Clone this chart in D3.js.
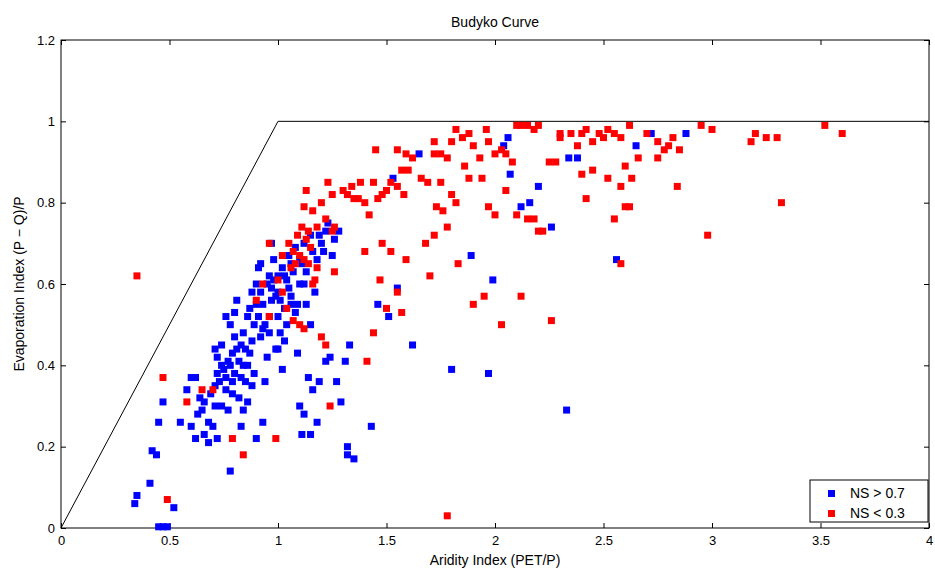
<!DOCTYPE html>
<html><head><meta charset="utf-8">
<script src="https://cdn.jsdelivr.net/npm/d3@7"></script>
<style>body{margin:0;background:#fff}text{font-family:Arial,"Liberation Sans",sans-serif}</style>
</head><body><svg id="c" width="935" height="572"></svg>
<script>
const xTicks = [0, 0.5, 1, 1.5, 2, 2.5, 3, 3.5, 4];
const yTicks = [0, 0.2, 0.4, 0.6, 0.8, 1, 1.2];
const budyko = [[0, 0], [1, 1], [4, 1]];
const blue = [[0.34,0.06],[0.35,0.08],[0.41,0.11],[0.42,0.19],[0.44,0.18],[0.45,0.26],[0.47,0.31],[0.45,0.003],[0.47,0.003],[0.49,0.003],[0.52,0.05],[0.55,0.26],[0.58,0.34],[0.60,0.37],[0.62,0.37],[0.60,0.25],[0.63,0.28],[0.62,0.22],[0.65,0.29],[0.66,0.31],[0.66,0.23],[0.68,0.21],[0.70,0.25],[0.69,0.33],[0.71,0.30],[0.72,0.38],[0.72,0.42],[0.71,0.44],[0.74,0.45],[0.73,0.36],[0.75,0.39],[0.76,0.34],[0.74,0.30],[0.72,0.22],[0.77,0.29],[0.78,0.14],[0.79,0.43],[0.80,0.47],[0.78,0.50],[0.76,0.52],[0.80,0.53],[0.81,0.56],[0.82,0.41],[0.83,0.37],[0.84,0.29],[0.83,0.25],[0.85,0.44],[0.86,0.40],[0.86,0.31],[0.87,0.54],[0.88,0.46],[0.88,0.58],[0.90,0.60],[0.91,0.64],[0.92,0.65],[0.93,0.55],[0.94,0.50],[0.95,0.42],[0.94,0.36],[0.93,0.26],[0.90,0.22],[0.96,0.62],[0.97,0.56],[0.98,0.66],[0.99,0.57],[1.00,0.52],[1.01,0.48],[1.00,0.44],[1.03,0.46],[1.02,0.39],[1.04,0.61],[1.05,0.67],[1.06,0.57],[1.07,0.63],[1.08,0.69],[1.08,0.53],[1.09,0.43],[1.10,0.60],[1.11,0.65],[1.12,0.70],[1.13,0.55],[1.15,0.50],[1.15,0.72],[1.17,0.58],[1.18,0.66],[1.20,0.70],[1.21,0.68],[1.22,0.73],[1.23,0.75],[1.14,0.37],[1.16,0.34],[1.10,0.30],[1.12,0.28],[1.11,0.23],[1.15,0.23],[1.18,0.26],[1.19,0.36],[1.22,0.41],[1.24,0.42],[1.27,0.36],[1.31,0.41],[1.33,0.45],[1.29,0.31],[1.32,0.20],[1.32,0.18],[1.35,0.17],[1.43,0.25],[1.46,0.55],[1.51,0.52],[1.55,0.59],[1.62,0.45],[1.53,0.86],[1.65,0.92],[1.80,0.39],[1.89,0.67],[1.97,0.38],[1.99,0.61],[2.07,0.87],[2.12,0.79],[2.16,0.80],[2.20,0.84],[2.26,0.74],[2.04,0.94],[2.06,0.96],[2.33,0.29],[2.34,0.91],[2.38,0.91],[2.56,0.66],[2.72,0.97],[2.65,0.94],[2.88,0.97],[0.97,0.70],[1.00,0.62],[1.02,0.64],[1.05,0.59],[1.09,0.55],[0.96,0.48],[0.99,0.44],[0.92,0.47],[0.89,0.38],[0.85,0.36],[0.82,0.32],[0.79,0.36],[0.77,0.41],[0.80,0.38],[0.84,0.48],[0.86,0.52],[0.91,0.52],[1.26,0.71],[1.28,0.73],[1.25,0.67],[1.01,0.56],[1.04,0.50],[0.78,0.40],[0.81,0.44],[0.83,0.45],[0.76,0.37],[0.79,0.33],[0.84,0.40],[0.87,0.43],[0.90,0.55],[0.92,0.58],[0.95,0.60],[0.98,0.61],[1.00,0.58],[1.03,0.62],[1.06,0.65],[1.10,0.66],[1.13,0.63],[1.16,0.68],[1.19,0.72],[0.93,0.49],[0.96,0.52],[0.74,0.40],[0.71,0.35],[0.68,0.26],[0.64,0.32],[0.88,0.35],[1.06,0.55],[1.12,0.60],[1.03,0.54],[0.89,0.50],[0.97,0.59]];
const red = [[0.35,0.62],[0.47,0.37],[0.49,0.07],[0.58,0.31],[0.65,0.34],[0.70,0.34],[0.79,0.22],[0.84,0.18],[0.99,0.22],[0.90,0.56],[0.93,0.60],[0.96,0.52],[1.00,0.61],[1.02,0.58],[1.04,0.54],[1.07,0.51],[1.10,0.50],[1.12,0.49],[1.06,0.64],[1.08,0.65],[1.10,0.67],[1.12,0.66],[1.14,0.65],[1.15,0.69],[1.16,0.60],[1.18,0.64],[0.96,0.70],[1.02,0.67],[1.05,0.70],[1.07,0.68],[1.09,0.72],[1.11,0.74],[1.13,0.71],[1.14,0.73],[1.16,0.78],[1.18,0.74],[1.22,0.76],[1.25,0.73],[1.26,0.74],[1.12,0.79],[1.13,0.83],[1.20,0.80],[1.23,0.85],[1.25,0.82],[1.30,0.83],[1.32,0.82],[1.34,0.84],[1.35,0.81],[1.37,0.81],[1.38,0.85],[1.40,0.80],[1.42,0.77],[1.44,0.85],[1.46,0.81],[1.48,0.82],[1.50,0.83],[1.52,0.85],[1.55,0.84],[1.57,0.88],[1.58,0.82],[1.60,0.88],[1.45,0.93],[1.40,0.68],[1.47,0.61],[1.48,0.70],[1.52,0.68],[1.55,0.58],[1.57,0.53],[1.59,0.66],[1.50,0.54],[1.44,0.48],[1.41,0.41],[1.26,0.63],[1.17,0.61],[1.20,0.47],[1.22,0.45],[1.24,0.30],[1.72,0.95],[1.75,0.92],[1.78,0.91],[1.80,0.95],[1.82,0.98],[1.85,0.96],[1.88,0.97],[1.90,0.94],[1.93,0.91],[1.96,0.98],[1.97,0.95],[2.00,0.92],[2.03,0.93],[2.05,0.92],[2.08,0.90],[2.10,0.99],[2.12,0.99],[2.15,0.99],[2.18,0.98],[1.66,0.86],[1.69,0.85],[1.72,0.92],[1.55,0.93],[1.59,0.92],[1.62,0.91],[1.75,0.85],[1.80,0.82],[1.82,0.80],[1.86,0.89],[1.88,0.86],[1.94,0.86],[1.97,0.79],[2.00,0.77],[2.05,0.83],[2.10,0.77],[2.15,0.76],[2.18,0.76],[1.76,0.78],[1.73,0.79],[1.72,0.72],[1.78,0.74],[1.68,0.70],[1.70,0.62],[1.83,0.65],[1.90,0.55],[1.95,0.57],[2.03,0.50],[2.12,0.57],[2.26,0.51],[1.78,0.03],[2.20,0.73],[2.22,0.73],[2.28,0.90],[2.30,0.96],[2.35,0.97],[2.38,0.94],[2.40,0.97],[2.42,0.98],[2.45,0.95],[2.48,0.97],[2.50,0.96],[2.52,0.98],[2.55,0.97],[2.58,0.96],[2.62,0.99],[2.70,0.97],[2.75,0.95],[2.80,0.94],[2.82,0.96],[2.85,0.93],[2.95,0.99],[3.00,0.98],[2.40,0.87],[2.45,0.88],[2.52,0.86],[2.58,0.84],[2.60,0.89],[2.63,0.86],[2.66,0.91],[2.78,0.93],[2.42,0.81],[2.55,0.76],[2.60,0.79],[2.62,0.79],[2.58,0.65],[2.75,0.91],[2.84,0.84],[2.98,0.72],[3.18,0.95],[3.20,0.97],[3.25,0.96],[3.30,0.96],[3.32,0.80],[3.52,0.99],[3.60,0.97],[2.25,0.90],[2.20,0.99],[2.30,0.97]];

const svg = d3.select('#c');
const m = {l: 61, r: 6, t: 40, b: 44};
const W = 935, H = 572;
const x = d3.scaleLinear().domain([0, 4]).range([m.l, W - m.r]);
const y = d3.scaleLinear().domain([0, 1.2]).range([H - m.b, m.t]);

// axes box
svg.append('rect').attr('x', m.l).attr('y', m.t).attr('width', x(4) - m.l).attr('height', y(0) - m.t)
  .attr('fill', 'none').attr('stroke', '#000');

svg.append('g').attr('transform', `translate(0,${y(0)})`)
  .call(d3.axisBottom(x).tickValues(xTicks).tickSize(-5).tickPadding(8).tickFormat(d3.format('')));
svg.append('g').attr('transform', `translate(${m.l},0)`)
  .call(d3.axisLeft(y).tickValues(yTicks).tickSize(-5).tickPadding(6).tickFormat(d3.format('')));
svg.append('g').attr('transform', `translate(0,${m.t})`)
  .call(d3.axisTop(x).tickValues(xTicks).tickSize(-5).tickFormat(''));
svg.append('g').attr('transform', `translate(${x(4)},0)`)
  .call(d3.axisRight(y).tickValues(yTicks).tickSize(-5).tickFormat(''));
svg.selectAll('.domain').remove();
svg.selectAll('.tick text').attr('font-size', 13).attr('fill', '#000');

svg.append('path').datum(budyko).attr('fill', 'none').attr('stroke', '#000').attr('stroke-width', 1)
  .attr('d', d3.line().x(d => x(d[0])).y(d => y(d[1])));

const s = 7;
[[blue, '#0000ff'], [red, '#ff0000']].forEach(([data, col]) => {
  svg.append('g').selectAll('rect').data(data).join('rect')
    .attr('x', d => x(d[0]) - s / 2).attr('y', d => y(d[1]) - s / 2)
    .attr('width', s).attr('height', s).attr('fill', col);
});

svg.append('text').attr('x', (m.l + x(4)) / 2).attr('y', 27).attr('text-anchor', 'middle')
  .attr('font-size', 14).text('Budyko Curve');
svg.append('text').attr('x', (m.l + x(4)) / 2).attr('y', 565).attr('text-anchor', 'middle')
  .attr('font-size', 14).text('Aridity Index (PET/P)');
svg.append('text').attr('transform', `translate(24,${(m.t + y(0)) / 2}) rotate(-90)`).attr('text-anchor', 'middle')
  .attr('font-size', 14).text('Evaporation Index (P \u2212 Q)/P');

// legend
const lg = svg.append('g').attr('transform', 'translate(810,480)');
lg.append('rect').attr('width', 118).attr('height', 42).attr('fill', '#fff').attr('stroke', '#000');
[['NS > 0.7', '#0000ff'], ['NS < 0.3', '#ff0000']].forEach(([t, c], i) => {
  lg.append('rect').attr('x', 18).attr('y', 10 + i * 20).attr('width', s).attr('height', s).attr('fill', c);
  lg.append('text').attr('x', 40).attr('y', 18 + i * 20).attr('font-size', 14).text(t);
});
</script></body></html>
